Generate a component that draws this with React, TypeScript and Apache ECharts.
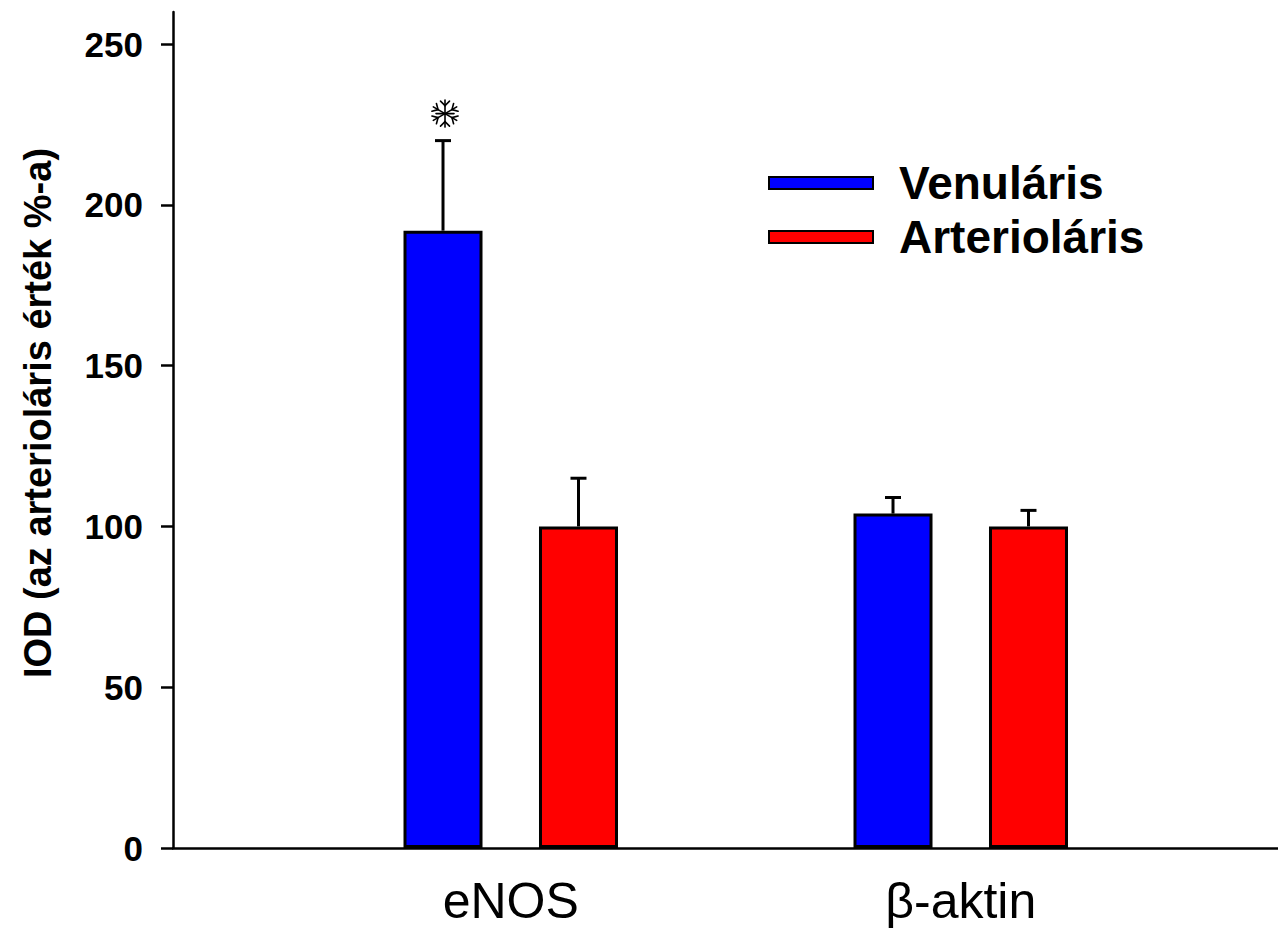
import React, { useEffect, useRef } from 'react';
import * as echarts from 'echarts';

// Groups on the x axis
const categories = ['eNOS', 'β-aktin'];
const seriesNames = ['Venuláris', 'Arterioláris'];

// Mean values (% of arteriolar value) and their error (SEM) per group
const venularMeans = [192, 104];
const venularSem = [28, 5];
const arteriolarMeans = [100, 100];
const arteriolarSem = [15, 5];

// Groups whose venular bar carries a significance mark (snowflake)
const venularSignificant = [true, false];

// Y axis scale and tick labels
const yMin = 0;
const yMax = 260;
const yTicks = [0, 50, 100, 150, 200, 250];
const yAxisTitle = 'IOD (az arterioláris érték %-a)';

// Layout constants
const FONT = '"Liberation Sans", Arial, Helvetica, sans-serif';
const AXIS_LEFT = 173;
const GRID_TOP = 12;
const GRID_BOTTOM = 84;
const PLOT_LEFT = 285.75;
const PLOT_WIDTH = 900;
const BAR_W = 79;
const BAR_BORDER = 3;
const BAR_GAP = 0.715;
const BAR_OFFSET = (BAR_W + BAR_W * BAR_GAP) / 2;
const CAP_HALF = 8;
const ERR_LINE = 3;

// Thin-stroked six-armed snowflake with chevrons, centred on (cx, cy)
function snowflake(cx: number, cy: number): any[] {
  const R = 13.5;
  const stroke = { stroke: '#000', lineWidth: 1.6, lineCap: 'round' };
  const parts: any[] = [];
  const angles = [90, 30, 150];
  for (const deg of angles) {
    const a = (deg * Math.PI) / 180;
    const ux = Math.cos(a);
    const uy = -Math.sin(a);
    parts.push({
      type: 'line',
      shape: { x1: cx - ux * R, y1: cy - uy * R, x2: cx + ux * R, y2: cy + uy * R },
      style: stroke,
    });
    for (const s of [1, -1]) {
      const bx = cx + s * ux * (R - 5.5);
      const by = cy + s * uy * (R - 5.5);
      const px = -uy;
      const py = ux;
      for (const t of [1, -1]) {
        parts.push({
          type: 'line',
          shape: {
            x1: bx,
            y1: by,
            x2: bx + s * ux * 4.5 + t * px * 4.5,
            y2: by + s * uy * 4.5 + t * py * 4.5,
          },
          style: stroke,
        });
      }
    }
  }
  parts.push({
    type: 'line',
    shape: { x1: cx - 9, y1: cy, x2: cx + 9, y2: cy },
    style: stroke,
  });
  return parts;
}

function errorSeries(
  means: number[],
  sems: number[],
  side: number,
  marks: boolean[] | null
) {
  return {
    type: 'custom',
    xAxisIndex: 1,
    yAxisIndex: 1,
    z: 5,
    silent: true,
    data: means.map((m, i) => [i, m, sems[i]]),
    renderItem: (params: any, api: any) => {
      const ci = api.value(0);
      const mean = api.value(1);
      const sem = api.value(2);
      const base = api.coord([ci, mean]);
      const top = api.coord([ci, mean + sem]);
      const x = base[0] + side * BAR_OFFSET;
      const stroke = { stroke: '#000', lineWidth: ERR_LINE };
      let children: any[] = [
        {
          type: 'line',
          shape: { x1: x, y1: base[1], x2: x, y2: top[1] },
          style: stroke,
        },
        {
          type: 'line',
          shape: { x1: x - CAP_HALF, y1: top[1], x2: x + CAP_HALF, y2: top[1] },
          style: stroke,
        },
      ];
      if (marks && marks[params.dataIndex]) {
        children = children.concat(snowflake(x + 2, top[1] - 27));
      }
      return { type: 'group', children };
    },
  };
}

export default function App() {
  const ref = useRef<HTMLDivElement>(null);

  useEffect(() => {
    if (!ref.current) return;
    const chart = echarts.init(ref.current, undefined, { renderer: 'svg' });

    const barItem = (color: string) => ({
      color,
      borderColor: '#000',
      borderWidth: BAR_BORDER,
    });

    chart.setOption({
      animation: false,
      backgroundColor: '#fff',
      textStyle: { fontFamily: FONT },
      grid: [
        { left: AXIS_LEFT, right: 0, top: GRID_TOP, bottom: GRID_BOTTOM },
        { left: PLOT_LEFT, width: PLOT_WIDTH, top: GRID_TOP, bottom: GRID_BOTTOM },
      ],
      legend: {
        orient: 'vertical',
        left: 763,
        top: 154,
        data: seriesNames,
        icon: 'rect',
        itemWidth: 104,
        itemHeight: 12,
        itemGap: 6,
        selectedMode: false,
        textStyle: {
          fontFamily: FONT,
          fontSize: 46,
          fontWeight: 'bold',
          color: '#000',
          lineHeight: 48,
          padding: [0, 0, 0, 21],
        },
      },
      xAxis: [
        {
          gridIndex: 0,
          type: 'value',
          min: 0,
          max: 1,
          axisLine: { show: true, lineStyle: { color: '#000', width: 2.5 } },
          axisTick: { show: false },
          axisLabel: { show: false },
          splitLine: { show: false },
        },
        {
          gridIndex: 1,
          type: 'category',
          data: categories,
          axisLine: { show: false },
          axisTick: { show: false },
          axisLabel: {
            fontFamily: FONT,
            fontSize: 50,
            color: '#000',
            margin: 28,
          },
          splitLine: { show: false },
        },
      ],
      yAxis: [
        {
          gridIndex: 0,
          type: 'value',
          min: yMin,
          max: yMax,
          interval: 50,
          axisLine: { show: true, lineStyle: { color: '#000', width: 2.5 } },
          axisTick: {
            show: true,
            inside: false,
            length: 12,
            lineStyle: { color: '#000', width: 2.5 },
            customValues: yTicks,
          },
          axisLabel: {
            customValues: yTicks,
            fontFamily: FONT,
            fontSize: 35,
            fontWeight: 'bold',
            color: '#000',
            margin: 30,
          },
          splitLine: { show: false },
          name: yAxisTitle,
          nameLocation: 'middle',
          nameRotate: 90,
          nameGap: 116,
          nameTextStyle: {
            fontFamily: FONT,
            fontSize: 38,
            fontWeight: 'bold',
            color: '#000',
            padding: [0, 0, 0, 34],
          },
        },
        {
          gridIndex: 1,
          type: 'value',
          min: yMin,
          max: yMax,
          show: false,
          splitLine: { show: false },
        },
      ],
      series: [
        {
          name: seriesNames[0],
          type: 'bar',
          xAxisIndex: 1,
          yAxisIndex: 1,
          barWidth: BAR_W,
          barGap: `${BAR_GAP * 100}%`,
          itemStyle: barItem('#0000ff'),
          data: venularMeans,
        },
        {
          name: seriesNames[1],
          type: 'bar',
          xAxisIndex: 1,
          yAxisIndex: 1,
          barWidth: BAR_W,
          barGap: `${BAR_GAP * 100}%`,
          itemStyle: barItem('#ff0000'),
          data: arteriolarMeans,
        },
        errorSeries(venularMeans, venularSem, -1, venularSignificant),
        errorSeries(arteriolarMeans, arteriolarSem, 1, null),
      ],
    });

    return () => chart.dispose();
  }, []);

  return (
    <div
      ref={ref}
      style={{ position: 'absolute', left: 0, top: 0, width: 1278, height: 932 }}
    />
  );
}
